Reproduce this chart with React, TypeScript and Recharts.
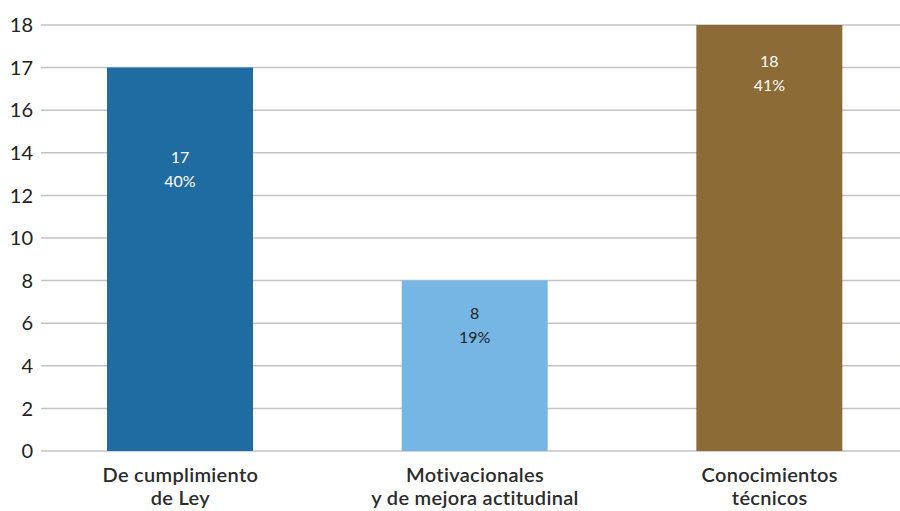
import React from "react";
import { BarChart, Bar, XAxis, YAxis, CartesianGrid, Cell } from "recharts";

// ---- data ----
const categories = [
  "De cumplimiento\nde Ley",
  "Motivacionales\ny de mejora actitudinal",
  "Conocimientos\ntécnicos",
];
const counts = [17, 8, 18];
const percents = ["40%", "19%", "41%"];
const yTicks = [0, 2, 4, 6, 8, 10, 12, 14, 16, 17, 18];

// ---- styles ----
const barColors = ["#1f6ca3", "#75b6e5", "#8c6b36"];
const labelColors = ["#ffffff", "#222222", "#ffffff"];
const labelFirstBaseline = [95, 38, 42];
const FONT = "Lato, 'Open Sans', sans-serif";

const data = categories.map((name, i) => ({
  name,
  value: counts[i],
  pct: percents[i],
}));

// Scale that spaces the given tick values evenly (piecewise linear between ticks)
function tickIndexScale(knots: number[]): any {
  let dom: number[] = [knots[0], knots[knots.length - 1]];
  let rng: number[] = [0, 1];
  const idx = (v: number) => {
    if (v <= knots[0]) return (v - knots[0]) / (knots[1] - knots[0]);
    for (let i = 1; i < knots.length; i++) {
      if (v <= knots[i]) return i - 1 + (v - knots[i - 1]) / (knots[i] - knots[i - 1]);
    }
    const n = knots.length - 1;
    return n + (v - knots[n]) / (knots[n] - knots[n - 1]);
  };
  const s: any = (v: number) => {
    const a = idx(dom[0]);
    const b = idx(dom[dom.length - 1]);
    return rng[0] + ((idx(Number(v)) - a) / (b - a)) * (rng[rng.length - 1] - rng[0]);
  };
  s.domain = (d?: any) => {
    if (d === undefined) return dom.slice();
    dom = Array.from(d, Number);
    return s;
  };
  s.range = (r?: any) => {
    if (r === undefined) return rng.slice();
    rng = Array.from(r, Number);
    return s;
  };
  s.copy = () => tickIndexScale(knots).domain(dom).range(rng);
  s.ticks = () => knots.slice();
  s.tickFormat = () => (v: any) => String(v);
  return s;
}

const XTick = (props: any) => {
  const { x, y, payload } = props;
  const lines = String(payload.value).split("\n");
  return (
    <text
      x={x}
      y={y}
      textAnchor="middle"
      fontFamily={FONT}
      fontSize={20}
      fontWeight={600}
      letterSpacing={0.3}
      fill="#2b2b2b"
    >
      {lines.map((l, i) => (
        <tspan key={i} x={x} dy={i === 0 ? 23 : 23}>
          {l}
        </tspan>
      ))}
    </text>
  );
};

const BarLabel = (props: any) => {
  const { x, y, width, index } = props;
  const cx = Number(x) + Number(width) / 2;
  const base = Number(y) + labelFirstBaseline[index];
  return (
    <text
      x={cx}
      y={base}
      textAnchor="middle"
      fontFamily={FONT}
      fontSize={16}
      fill={labelColors[index]}
    >
      <tspan x={cx}>{counts[index]}</tspan>
      <tspan x={cx} dy={24}>
        {percents[index]}
      </tspan>
    </text>
  );
};

export default function App() {
  return (
    <div
      style={{
        position: "fixed",
        left: 0,
        top: 0,
        width: 900,
        height: 511,
        overflow: "hidden",
        background: "#ffffff",
      }}
    >
      <BarChart
        width={917}
        height={511}
        data={data}
        margin={{ top: 25, right: 0, left: 8, bottom: 0 }}
      >
        <CartesianGrid
          horizontal={true}
          vertical={false}
          stroke="#c3c2c9"
          strokeWidth={1.5}
        />
        <XAxis
          dataKey="name"
          height={60}
          axisLine={false}
          tickLine={false}
          interval={0}
          padding={{ left: -8, right: 0 }}
          tick={<XTick />}
        />
        <YAxis
          type="number"
          width={33}
          domain={[0, 18]}
          ticks={yTicks}
          scale={tickIndexScale(yTicks)}
          interval={0}
          axisLine={false}
          tickLine={false}
          tick={{ fontFamily: FONT, fontSize: 20, fill: "#222222" }}
        />
        <Bar
          dataKey="value"
          barSize={146}
          isAnimationActive={false}
          label={<BarLabel />}
        >
          {data.map((d, i) => (
            <Cell key={d.name} fill={barColors[i]} />
          ))}
        </Bar>
      </BarChart>
    </div>
  );
}
